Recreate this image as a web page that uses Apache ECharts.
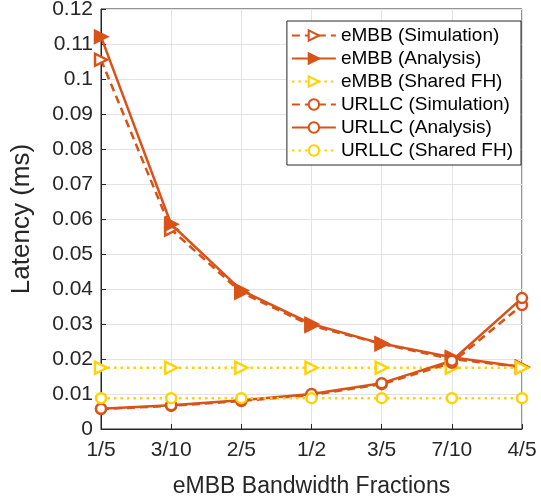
<!DOCTYPE html>
<html>
<head>
<meta charset="utf-8">
<script src="https://cdn.jsdelivr.net/npm/echarts@6/dist/echarts.min.js"></script>
<style>
  html, body { margin: 0; padding: 0; background: #fff; }
  #main { width: 541px; height: 499px; }
</style>
</head>
<body>
<div id="main"></div>
<script>
// x categories (eMBB bandwidth fractions)
const categories = ["1/5", "3/10", "2/5", "1/2", "3/5", "7/10", "4/5"];

// latency values in ms
const embbSim = [0.1055, 0.0570, 0.0390, 0.0295, 0.0243, 0.0200, 0.0177];
const embbAna = [0.1121, 0.0585, 0.0396, 0.0300, 0.0244, 0.0205, 0.0177];
const embbShared = [0.0175, 0.0175, 0.0175, 0.0175, 0.0175, 0.0175, 0.0175];
const urllcSim = [0.0057, 0.0066, 0.0080, 0.0097, 0.0128, 0.0189, 0.0354];
const urllcAna = [0.0058, 0.0068, 0.0082, 0.0100, 0.0131, 0.0195, 0.0374];
const urllcShared = [0.0088, 0.0088, 0.0088, 0.0088, 0.0088, 0.0088, 0.0088];

const yTicks = { min: 0, max: 0.12, step: 0.01 };

const orange = "#d95319";
const yellow = "#ffd200";
const font = "Arial, 'Liberation Sans', Helvetica, sans-serif";

const chart = echarts.init(document.getElementById("main"));

// helper to build one line series
function mk(name, data, color, dash, symbol, filled, size) {
  const tri = symbol === "triangle";
  return {
    name: name,
    type: "line",
    data: data,
    symbol: symbol,
    symbolSize: size,
    symbolRotate: tri ? -90 : 0,
    showSymbol: true,
    lineStyle: { color: color, width: 2.5, type: dash },
    itemStyle: {
      color: filled ? color : "#fff",
      borderColor: color,
      borderWidth: 2.5
    },
    emphasis: { disabled: true },
    animation: false,
    z: 3
  };
}

const option = {
  animation: false,
  textStyle: { fontFamily: font },
  grid: {
    left: 101, right: 19, top: 9, bottom: 70,
    outerBoundsMode: "none",
    containLabel: false,
    show: true, borderColor: "#262626", borderWidth: 1
  },
  legend: {
    orient: "vertical",
    right: 20, top: 21,
    itemWidth: 44, itemHeight: 13, itemGap: 4,
    padding: [5, 8, 5, 4],
    borderColor: "#262626", borderWidth: 1,
    backgroundColor: "#fff",
    textStyle: { fontSize: 19, color: "#000", fontFamily: font },
    data: ["eMBB (Simulation)", "eMBB (Analysis)", "eMBB (Shared FH)",
           "URLLC (Simulation)", "URLLC (Analysis)", "URLLC (Shared FH)"]
  },
  xAxis: {
    type: "category",
    data: categories,
    boundaryGap: false,
    name: "eMBB Bandwidth Fractions",
    nameLocation: "middle",
    nameGap: 46,
    nameTextStyle: { fontSize: 23, color: "#262626" },
    axisLine: { lineStyle: { color: "#262626" } },
    axisTick: { inside: true, length: 5, lineStyle: { color: "#262626" } },
    axisLabel: { fontSize: 21, color: "#262626", margin: 11 },
    splitLine: { show: true, lineStyle: { color: "#e3e3e3" } }
  },
  yAxis: {
    type: "value",
    min: yTicks.min, max: yTicks.max, interval: yTicks.step,
    name: "Latency (ms)",
    nameLocation: "middle",
    nameGap: 66,
    nameTextStyle: { fontSize: 26, color: "#262626" },
    axisLine: { show: true, lineStyle: { color: "#262626" } },
    axisTick: { show: true, inside: true, length: 5, lineStyle: { color: "#262626" } },
    axisLabel: { fontSize: 21, color: "#262626", margin: 8,
      formatter: v => String(Math.round(v * 100) / 100) },
    splitLine: { show: true, lineStyle: { color: "#e3e3e3" } }
  },
  series: [
    mk("eMBB (Simulation)", embbSim, orange, [8, 5], "triangle", false, 12),
    mk("eMBB (Analysis)", embbAna, orange, "solid", "triangle", true, 12),
    mk("eMBB (Shared FH)", embbShared, yellow, [2.5, 4], "triangle", false, 12),
    mk("URLLC (Simulation)", urllcSim, orange, [8, 5], "circle", false, 10),
    mk("URLLC (Analysis)", urllcAna, orange, "solid", "circle", false, 10),
    mk("URLLC (Shared FH)", urllcShared, yellow, [2.5, 4], "circle", false, 10)
  ]
};

chart.setOption(option);
</script>
</body>
</html>
